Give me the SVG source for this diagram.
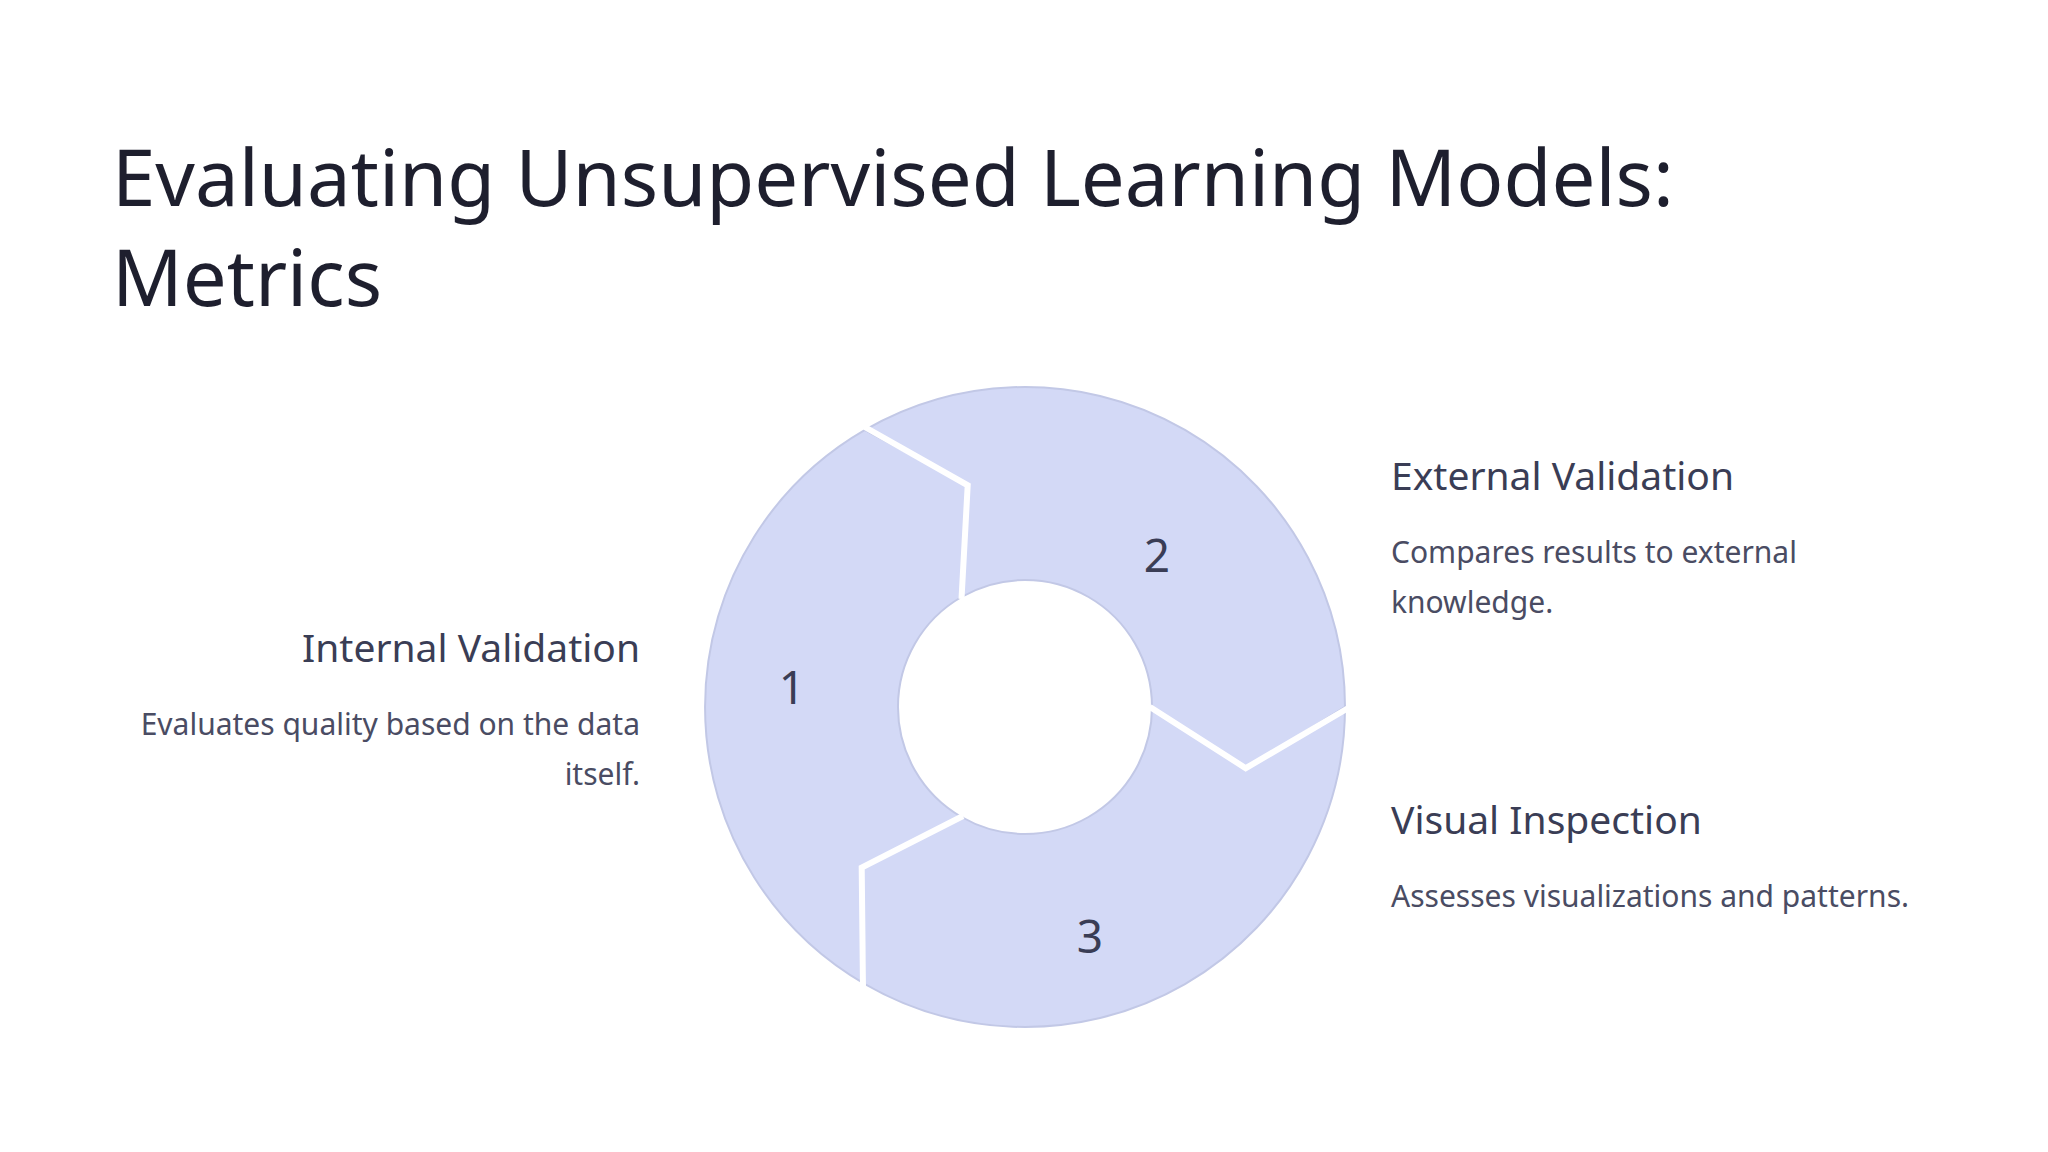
<svg xmlns="http://www.w3.org/2000/svg" width="2048" height="1152" viewBox="0 0 2048 1152">
<style>
text{font-family:"Noto Sans","Open Sans","Liberation Sans",sans-serif}
.title{font-size:78px;fill:#1e1f2e}
.h{font-size:39px;fill:#3a3d55}
.d{font-size:30px;fill:#4a4c63}
.n{font-size:46px;fill:#3a3d55;text-anchor:middle}
.seg{fill:#d3d9f6;stroke:#c2c8e6;stroke-width:2}
.gap{fill:none;stroke:#fff;stroke-width:6;stroke-linejoin:miter}
</style>
<rect width="2048" height="1152" fill="#fff"/>
<text class="title" x="112" y="206">Evaluating Unsupervised Learning Models:</text>
<text class="title" x="112" y="306">Metrics</text>
<g id="seg1"><path class="seg" d="M865,984.1 A320 320 0 0 1 865,429.9 L967.7,485.3 L961.5,597 A127 127 0 0 0 961.5,817 L861.7,867.5 Z"/><text class="n" x="792" y="704">1</text></g>
<g id="seg2"><path class="seg" d="M865,429.9 A320 320 0 0 1 1345,707 L1245.7,768.2 L1152,707 A127 127 0 0 0 961.5,597 L967.7,485.3 Z"/><text class="n" x="1157" y="572">2</text></g>
<g id="seg3"><path class="seg" d="M1345,707 A320 320 0 0 1 865,984.1 L861.7,867.5 L961.5,817 A127 127 0 0 0 1152,707 L1245.7,768.2 Z"/><text class="n" x="1090" y="953">3</text></g>
<g id="connectors">
<polyline class="gap" points="863,426 967.7,485.3 961.5,599"/>
<polyline class="gap" points="1350,707 1245.7,768.2 1150,707"/>
<polyline class="gap" points="863,988 861.7,867.5 963,816"/>
</g>
<g id="internal"><text class="h" x="640" y="662" text-anchor="end">Internal Validation</text>
<text class="d" x="640" y="735" text-anchor="end">Evaluates quality based on the data</text>
<text class="d" x="640" y="785" text-anchor="end">itself.</text></g>
<g id="external"><text class="h" x="1391" y="490">External Validation</text>
<text class="d" x="1391" y="563">Compares results to external</text>
<text class="d" x="1391" y="613">knowledge.</text></g>
<g id="visual"><text class="h" x="1391" y="834">Visual Inspection</text>
<text class="d" x="1391" y="907">Assesses visualizations and patterns.</text></g>
</svg>
